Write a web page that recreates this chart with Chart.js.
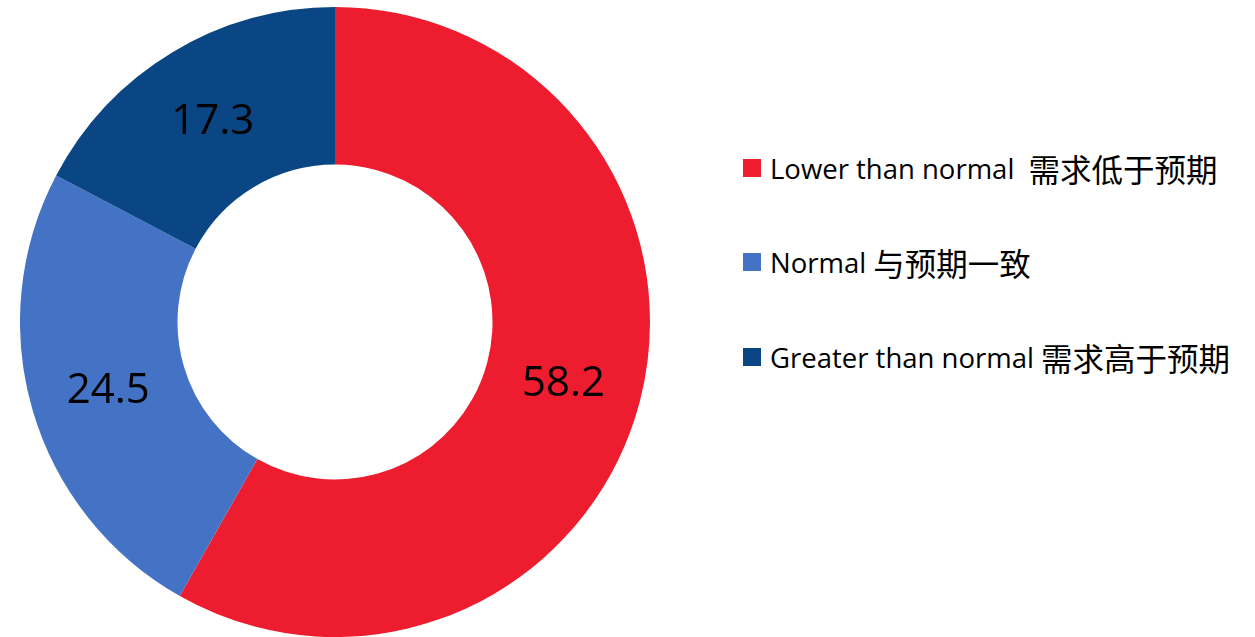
<!DOCTYPE html>
<html>
<head>
<meta charset="utf-8">
<script src="https://cdn.jsdelivr.net/npm/chart.js@4/dist/chart.umd.min.js"></script>
<style>
  html, body { margin: 0; padding: 0; background: #fff; }
  body { width: 1255px; height: 637px; position: relative; overflow: hidden; }
  #wrap { position: absolute; left: 20px; top: 7px; width: 630px; height: 630px; }
  #legend { position: absolute; left: 743px; top: 0; }
  .item { position: absolute; left: 0; white-space: pre; height: 40px; display: flex; align-items: center; }
  .box { width: 18px; height: 18px; margin-right: 9px; flex: none; }
  .lat { font-family: "Open Sans", sans-serif; font-size: 27.5px; color: #000; }
  .cjk { font-family: "Noto Sans CJK SC", sans-serif; font-size: 31.5px; color: #000; }
</style>
</head>
<body>
<div id="wrap"><canvas id="c"></canvas></div>
<div id="legend"></div>
<script>
// Survey shares (%), drawn clockwise from 12 o'clock
const categories = ["Lower than normal  需求低于预期", "Normal 与预期一致", "Greater than normal 需求高于预期"];
const shares = [58.2, 24.5, 17.3];
const sliceColors = ["#ED1C2E", "#4472C4", "#0A4683"];

// Writes each share in the middle of its ring segment
const sliceValueLabels = {
  id: "sliceValueLabels",
  afterDatasetsDraw(chart) {
    const ctx = chart.ctx;
    const meta = chart.getDatasetMeta(0);
    ctx.save();
    ctx.font = '42px "Open Sans", sans-serif';
    ctx.fillStyle = "#000";
    ctx.textAlign = "center";
    ctx.textBaseline = "middle";
    meta.data.forEach((arc, i) => {
      const p = arc.getCenterPoint();
      ctx.fillText(shares[i].toFixed(1), p.x, p.y + 2);
    });
    ctx.restore();
  }
};

new Chart(document.getElementById("c"), {
  type: "doughnut",
  data: {
    labels: categories,
    datasets: [{
      data: shares,
      backgroundColor: sliceColors,
      borderWidth: 0,
      hoverOffset: 0
    }]
  },
  options: {
    responsive: true,
    maintainAspectRatio: false,
    animation: false,
    cutout: "50%",
    layout: { padding: 0 },
    plugins: {
      legend: { display: false },
      tooltip: { enabled: false }
    }
  },
  plugins: [sliceValueLabels]
});

// Legend on the right, Latin and Chinese parts set in their own fonts
const legend = document.getElementById("legend");
const rowCenters = [168, 262, 357];
categories.forEach((label, i) => {
  const row = document.createElement("div");
  row.className = "item";
  row.style.top = (rowCenters[i] - 20) + "px";
  const box = document.createElement("span");
  box.className = "box";
  box.style.background = sliceColors[i];
  row.appendChild(box);
  const parts = label.match(/[\u4e00-\u9fff]+|[^\u4e00-\u9fff]+/g);
  parts.forEach(part => {
    const s = document.createElement("span");
    s.className = /[\u4e00-\u9fff]/.test(part) ? "cjk" : "lat";
    s.textContent = part;
    row.appendChild(s);
  });
  legend.appendChild(row);
});
</script>
</body>
</html>
